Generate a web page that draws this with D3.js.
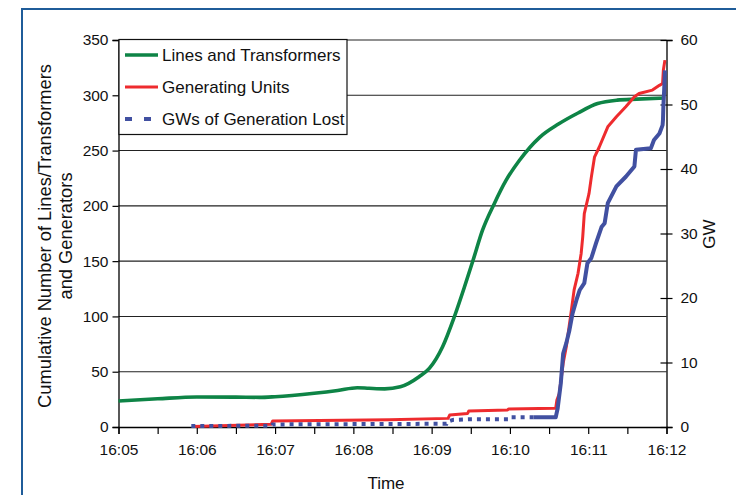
<!DOCTYPE html>
<html>
<head>
<meta charset="utf-8">
<script src="https://cdn.jsdelivr.net/npm/d3@7"></script>
<style>
  body { margin: 0; background: #fff; }
  svg { display: block; font-family: "Liberation Sans", Arial, sans-serif; }
</style>
</head>
<body>
<svg id="chart" width="736" height="495"></svg>
<script>
// time is minutes after 16:05
var timeLabels = ["16:05", "16:06", "16:07", "16:08", "16:09", "16:10", "16:11", "16:12"];

var linesT = [0, 0.5, 1, 1.5, 1.8, 2.0, 2.5, 2.8, 3.05, 3.2, 3.4, 3.6, 3.84, 3.97, 4.14, 4.29, 4.42, 4.53, 4.65, 4.8, 4.95, 5.12, 5.38, 5.62, 5.87, 6.12, 6.37, 6.62, 6.98];
var linesN = [23.5, 25.5, 27.2, 27, 26.8, 27.4, 30.5, 33, 35.5, 35, 34.5, 36.4, 45.5, 53, 72.6, 99.7, 126.8, 151, 178, 202, 223, 241, 262, 274, 284, 292.5, 295.6, 296.5, 297.5];

var unitsT = [0.95, 1.95, 1.97, 3.46, 4.21, 4.23, 4.46, 4.475, 4.97, 4.985, 5.57, 5.585, 5.6, 5.63, 5.68, 5.72, 5.78, 5.82, 5.87, 5.91, 5.93, 5.95, 6.01, 6.04, 6.08, 6.14, 6.25, 6.36, 6.48, 6.59, 6.65, 6.82, 6.91, 6.95, 6.96, 6.98];
var unitsN = [0.5, 2.4, 5.5, 6.5, 7.8, 10.8, 12.3, 14.5, 15.4, 16.3, 17, 17, 24.4, 30, 57.6, 72.6, 103, 124, 139, 157, 172, 193, 211, 226, 244, 253, 271.5, 280.5, 289.6, 298.6, 301.6, 304.7, 309, 310.6, 322.8, 331.8];

var gwT = [0.93, 1.96, 1.97, 4.19, 4.2, 4.27, 4.48, 4.98, 4.99, 5.585, 5.61, 5.65, 5.68, 5.72, 5.76, 5.80, 5.85, 5.89, 5.95, 5.99, 6.04, 6.10, 6.17, 6.21, 6.25, 6.36, 6.48, 6.59, 6.61, 6.80, 6.84, 6.91, 6.95, 6.955, 6.96, 6.97, 6.98];
var gwV = [0.15, 0.2, 0.4, 0.5, 0.8, 1.1, 1.2, 1.2, 1.5, 1.5, 2.9, 6.8, 11.4, 13, 15, 17.6, 19.7, 21.2, 22.3, 25.4, 26.2, 28.5, 31, 31.6, 34.7, 37.3, 38.8, 40.4, 43, 43.2, 44.5, 45.5, 46.8, 47.6, 49.7, 52.2, 55.3];

var leftTicks = [0, 50, 100, 150, 200, 250, 300, 350];
var rightTicks = [0, 10, 20, 30, 40, 50, 60];
var legendNames = ["Lines and Transformers", "Generating Units", "GWs of Generation Lost"];

var margin = { left: 118.5, right: 666.5, top: 40, bottom: 427 };
var svg = d3.select("#chart");

// frame
svg.append("path")
    .attr("d", "M22,500V9H740")
    .attr("fill", "none")
    .attr("stroke", "#1f5c99")
    .attr("stroke-width", 2);

var x = d3.scaleLinear().domain([0, 7]).range([margin.left, margin.right]);
var yL = d3.scaleLinear().domain([0, 350]).range([margin.bottom, margin.top]);
var yR = d3.scaleLinear().domain([0, 60]).range([margin.bottom, margin.top]);

// gridlines
svg.append("g").selectAll("line")
    .data(leftTicks.slice(1))
    .enter().append("line")
    .attr("x1", margin.left).attr("x2", margin.right)
    .attr("y1", function (d) { return yL(d); })
    .attr("y2", function (d) { return yL(d); })
    .attr("stroke", "#222").attr("stroke-width", 1.1);

var xAxis = d3.axisBottom(x)
    .tickValues(d3.range(0, 7.01, 0.5))
    .tickSize(7)
    .tickFormat(function (d) { return d % 1 === 0 ? timeLabels[d] : ""; });

var gx = svg.append("g")
    .attr("transform", "translate(0," + margin.bottom + ")")
    .call(xAxis);

var gl = svg.append("g")
    .attr("transform", "translate(" + margin.left + ",0)")
    .call(d3.axisLeft(yL).tickValues(leftTicks).tickSize(6).tickPadding(4));

var gr = svg.append("g")
    .attr("transform", "translate(" + margin.right + ",0)")
    .call(d3.axisRight(yR).tickValues(rightTicks).tickSize(6).tickPadding(8));
gr.selectAll(".tick line").attr("x1", -6);

[gx, gl, gr].forEach(function (g) {
    g.select(".domain").attr("stroke", "#000").attr("stroke-width", 1.3);
    g.selectAll(".tick line").attr("stroke", "#000").attr("stroke-width", 1.2);
    g.selectAll("text").attr("font-size", 15.5).attr("fill", "#111")
        .attr("font-family", "Liberation Sans, Arial, sans-serif");
});
gx.selectAll("text").attr("dy", "1.15em");

// series
svg.append("path")
    .datum(d3.zip(linesT, linesN))
    .attr("d", d3.line()
        .x(function (d) { return x(d[0]); })
        .y(function (d) { return yL(d[1]); })
        .curve(d3.curveMonotoneX))
    .attr("fill", "none").attr("stroke", "#0e8446").attr("stroke-width", 3.6);

svg.append("path")
    .datum(d3.zip(unitsT, unitsN))
    .attr("d", d3.line()
        .x(function (d) { return x(d[0]); })
        .y(function (d) { return yL(d[1]); }))
    .attr("fill", "none").attr("stroke", "#ee2b2e").attr("stroke-width", 3)
    .attr("stroke-linejoin", "round");

var gwLine = d3.line()
    .x(function (d) { return x(d[0]); })
    .y(function (d) { return yR(d[1]); });
var gwPts = d3.zip(gwT, gwV);
var splitAt = 5.3;
svg.append("path")
    .datum(gwPts.filter(function (d) { return d[0] <= splitAt; }).concat([[splitAt, 1.5]]))
    .attr("d", gwLine)
    .attr("fill", "none").attr("stroke", "#4150a1").attr("stroke-width", 4)
    .attr("stroke-dasharray", "4,5");
svg.append("path")
    .datum([[splitAt, 1.5]].concat(gwPts.filter(function (d) { return d[0] > splitAt; })))
    .attr("d", gwLine)
    .attr("fill", "none").attr("stroke", "#4150a1").attr("stroke-width", 4)
    .attr("stroke-linejoin", "round");

// legend
var leg = svg.append("g");
leg.append("rect")
    .attr("x", 119).attr("y", 39.5).attr("width", 228).attr("height", 95)
    .attr("fill", "#fff").attr("stroke", "#111").attr("stroke-width", 1.2);
var legStyles = [
    { c: "#0e8446", w: 3.6, dash: null },
    { c: "#ee2b2e", w: 3, dash: null },
    { c: "#4150a1", w: 4, dash: "7,12" }
];
legendNames.forEach(function (name, i) {
    var yy = 55 + i * 32;
    leg.append("line")
        .attr("x1", 125).attr("x2", 158).attr("y1", yy).attr("y2", yy)
        .attr("stroke", legStyles[i].c).attr("stroke-width", legStyles[i].w)
        .attr("stroke-dasharray", legStyles[i].dash);
    leg.append("text")
        .attr("x", 162).attr("y", yy + 6)
        .attr("font-size", 17).attr("fill", "#111")
        .text(name);
});

// axis titles
svg.append("text")
    .attr("x", 386).attr("y", 489)
    .attr("text-anchor", "middle").attr("font-size", 17).attr("fill", "#111")
    .text("Time");

var lt = svg.append("text")
    .attr("transform", "translate(51,236) rotate(-90)")
    .attr("text-anchor", "middle").attr("font-size", 18.3).attr("fill", "#111");
lt.append("tspan").attr("x", 0).attr("dy", 0).text("Cumulative Number of Lines/Transformers");
lt.append("tspan").attr("x", 0).attr("dy", 21).text("and Generators");

svg.append("text")
    .attr("transform", "translate(715,234) rotate(-90)")
    .attr("text-anchor", "middle").attr("font-size", 17).attr("fill", "#111")
    .text("GW");
</script>
</body>
</html>
